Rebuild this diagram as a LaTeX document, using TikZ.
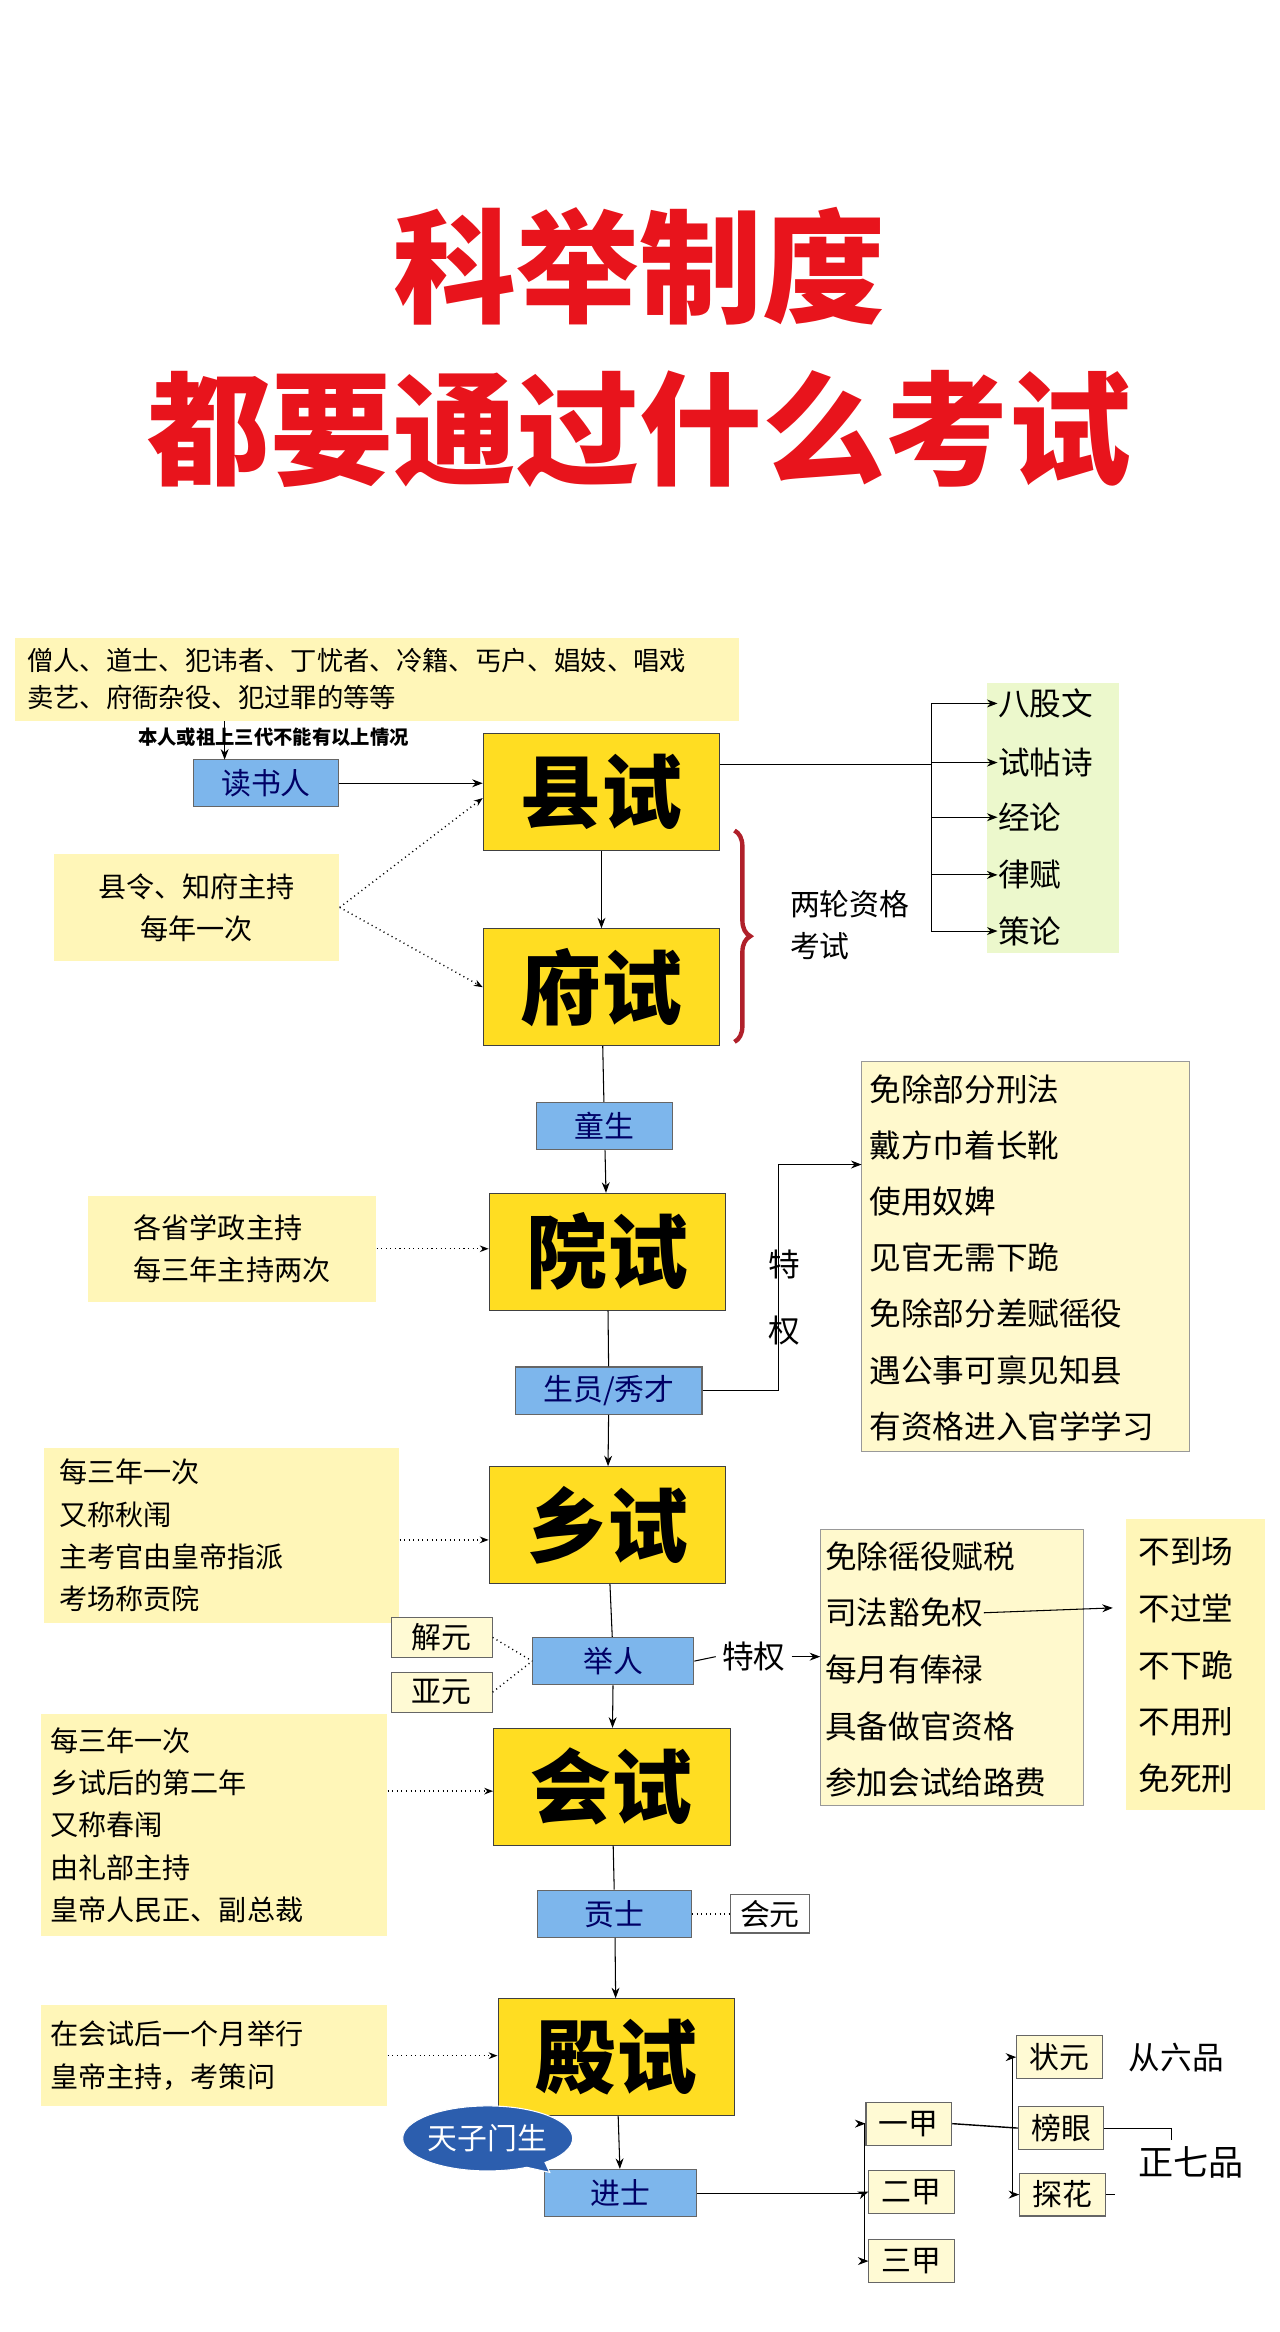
\documentclass[tikz,border=0pt]{standalone}
\usepackage{fontspec}
\newfontfamily\cjk{Noto Sans CJK SC}
\usetikzlibrary{arrows.meta,decorations.pathreplacing,shapes.callouts}
\definecolor{titlered}{HTML}{E8141C}
\definecolor{examyellow}{HTML}{FFDD22}
\definecolor{noteyellow}{HTML}{FFF6B8}
\definecolor{tagblue}{HTML}{7DB6EC}
\definecolor{listgreen}{HTML}{ECF8CC}
\definecolor{bubbleblue}{HTML}{2C5EAE}
\definecolor{bracered}{HTML}{B0202A}
\def\px{0.02956cm}
\begin{document}
\begin{tikzpicture}[
    x=0.02956cm, y=-0.02956cm,
    every node/.style={font=\cjk},
    every path/.style={semithick},
    exam/.style={draw=black!75, fill=examyellow, minimum width={160*\px}, minimum height={79*\px}, inner sep=0pt, font=\cjk\bfseries\fontsize{46}{46}\selectfont},
    tag/.style={draw=black!60, fill=tagblue, minimum height={32*\px}, inner sep=0pt, font=\cjk\fontsize{17}{17}\selectfont, text=blue!40!black},
    rank/.style={draw=black!60, fill=noteyellow!60, minimum width={58*\px}, minimum height={29*\px}, inner sep=0pt, font=\cjk\fontsize{17}{17}\selectfont},
    note/.style={fill=noteyellow, align=left, inner sep=0pt, font=\cjk\fontsize{16}{24}\selectfont},
    item/.style={anchor=west, inner sep=0pt, font=\cjk\fontsize{18}{18}\selectfont},
    dotarrow/.style={dotted, thick, -{Stealth[length=5pt]}},
    arrow/.style={-{Stealth[length=6pt]}}
    ]
    \useasboundingbox (0,0) rectangle (866,1578);
    % title
    \node[text=titlered, font=\cjk\bfseries\fontsize{70}{70}\selectfont] (title1) at (433,180) {科举制度};
    \node[text=titlered, font=\cjk\bfseries\fontsize{70}{70}\selectfont] (title2) at (433,290) {都要通过什么考试};
    % backgrounds
    \fill[noteyellow] (10,432) rectangle (500,488);
    \fill[listgreen] (668,462) rectangle (757,645);
    \filldraw[fill=noteyellow!70, draw=black!40] (583,718) rectangle (805,982);
    \filldraw[fill=noteyellow!70, draw=black!40] (555,1035) rectangle (733,1222);
    \fill[noteyellow] (762,1028) rectangle (856,1225);
    % top note
    \node[item, font=\cjk\fontsize{15}{15}\selectfont] (ban1) at (18,447) {僧人、道士、犯讳者、丁忧者、冷籍、丐户、娼妓、唱戏};
    \node[item, font=\cjk\fontsize{15}{15}\selectfont] (ban2) at (18,472) {卖艺、府衙杂役、犯过罪的等等};
    \node[font=\cjk\bfseries\fontsize{11}{11}\selectfont] (cond) at (185,499) {本人或祖上三代不能有以上情况};
    % exams
    \node[exam] (xian) at (407,536) {县试};
    \node[exam] (fu) at (407,668) {府试};
    \node[exam] (yuan) at (411,847) {院试};
    \node[exam] (xiang) at (411,1032) {乡试};
    \node[exam] (hui) at (414,1209) {会试};
    \node[exam] (dian) at (417,1392) {殿试};
    % tags
    \node[tag, minimum width={98*\px}] (dushu) at (180,530) {读书人};
    \node[tag, minimum width={92*\px}] (tong) at (409,762) {童生};
    \node[tag, minimum width={126*\px}] (sheng) at (412,941) {生员/秀才};
    \node[tag, minimum width={109*\px}] (ju) at (415,1124) {举人};
    \node[tag, minimum width={104*\px}] (gong) at (416,1295) {贡士};
    \node[tag, minimum width={103*\px}] (jin) at (420,1484) {进士};
    % notes
    \node[note, minimum width={193*\px}, minimum height={72*\px}, align=center] (n1) at (133,614) {县令、知府主持\\每年一次};
    \node[note, minimum width={195*\px}, minimum height={72*\px}] (n2) at (157,845) {各省学政主持\\每三年主持两次};
    \node[note, minimum width={240*\px}, minimum height={118*\px}, text width={220*\px}] (n3) at (150,1039) {每三年一次\\又称秋闱\\主考官由皇帝指派\\考场称贡院};
    \node[note, minimum width={234*\px}, minimum height={150*\px}, text width={222*\px}] (n4) at (145,1235) {每三年一次\\乡试后的第二年\\又称春闱\\由礼部主持\\皇帝人民正、副总裁};
    \node[note, minimum width={234*\px}, minimum height={68*\px}, text width={222*\px}] (n5) at (145,1391) {在会试后一个月举行\\皇帝主持，考策问};
    % main flow
    \draw[arrow] (dushu.east) -- (xian.west |- dushu.east);
    \draw[arrow] (152,488) -- (152,514);
    \draw[dotarrow] (n1.east) -- (xian.west |- 0,540);
    \draw[dotarrow] (n1.east) -- (fu.west);
    \draw[arrow] (xian) -- (fu);
    \draw (fu) -- (tong);
    \draw[arrow] (tong) -- (yuan);
    \draw[dotarrow] (n2.east) -- (yuan.west |- n2.east);
    \draw (yuan) -- (sheng);
    \draw[arrow] (sheng) -- (xiang);
    \draw[dotarrow] (n3.east |- 0,1042) -- (xiang.west |- 0,1042);
    \draw (xiang) -- (ju);
    \draw[arrow] (ju) -- (hui);
    \draw[dotarrow] (n4.east |- 0,1212) -- (hui.west |- 0,1212);
    \draw (hui) -- (gong);
    \draw[arrow] (gong) -- (dian);
    \draw[dotarrow] (n5.east) -- (dian.west |- n5.east);
    \draw[arrow] (dian) -- (jin);
    % brace
    \draw[bracered, line width=2.5pt, decorate, decoration={brace, amplitude=9pt}] (497,562) -- (497,705);
    \node[align=left, font=\cjk\fontsize{17}{24}\selectfont] (round) at (575,626) {两轮资格\\考试};
    % 县试 subjects
    \coordinate (fork) at (630,517);
    \draw (xian.east |- fork) -- (fork);
    \draw (630,476) -- (630,630);
    \foreach \name/\y in {八股文/476, 试帖诗/516, 经论/553, 律赋/592, 策论/630} {
      \node[item] (s\y) at (675,\y) {\name};
      \draw[arrow] (630,\y) -- (s\y.west);
    }
    % 秀才 privileges
    \node[align=center, font=\cjk\fontsize{18}{38}\selectfont] (tq1) at (531,878) {特\\权};
    \draw[arrow] (sheng.east) -- (527,941) -- (527,788) -- (583,788);
    \foreach \name [count=\i] in {免除部分刑法, 戴方巾着长靴, 使用奴婢, 见官无需下跪, 免除部分差赋徭役, 遇公事可禀见知县, 有资格进入官学学习} {
      \node[item] (p\i) at (588,{737+38*(\i-1)}) {\name};
    }
    % 举人 privileges
    \node[rank, minimum width={68*\px}, minimum height={27*\px}] (jie) at (299,1108) {解元};
    \node[rank, minimum width={68*\px}, minimum height={27*\px}] (ya) at (299,1145) {亚元};
    \draw[dotted, thick] (jie.east) -- (ju.west);
    \draw[dotted, thick] (ya.east) -- (ju.west);
    \node[font=\cjk\fontsize{18}{18}\selectfont] (tq2) at (510,1121) {特权};
    \draw (ju.east) -- (tq2.west);
    \draw[arrow] (tq2.east) -- (555,1121);
    \foreach \name [count=\i] in {免除徭役赋税, 司法豁免权, 每月有俸禄, 具备做官资格, 参加会试给路费} {
      \node[item] (q\i) at (558,{1053+38.3*(\i-1)}) {\name};
    }
    \draw[arrow] (q2.east) -- (753,1088);
    \foreach \name [count=\i] in {不到场, 不过堂, 不下跪, 不用刑, 免死刑} {
      \node[item] (r\i) at (770,{1050+38.3*(\i-1)}) {\name};
    }
    % 会元
    \node[rank, minimum width={53*\px}, minimum height={26*\px}, fill=white] (huiyuan) at (521,1295) {会元};
    \draw[dotted, thick] (gong.east) -- (huiyuan.west);
    % 进士 ranks
    \node[draw=white, fill=bubbleblue, ellipse callout, callout absolute pointer={(372,1470)}, text=white, minimum width={115*\px}, minimum height={44*\px}, inner sep=0pt, font=\cjk\fontsize{17}{17}\selectfont] (tianzi) at (330,1447) {天子门生};
    \node[rank] (yi) at (615,1437) {一甲};
    \node[rank] (er) at (617,1483) {二甲};
    \node[rank] (san) at (617,1530) {三甲};
    \draw (jin.east) -- (585,1484);
    \draw (585,1437) -- (585,1530);
    \draw[arrow] (585,1437) -- (yi.west);
    \draw[arrow] (585,1484) -- (er.west);
    \draw[arrow] (585,1530) -- (san.west);
    \node[rank] (zy) at (717,1392) {状元};
    \node[rank] (by) at (718,1440) {榜眼};
    \node[rank] (th) at (719,1485) {探花};
    \draw[thick] (yi.east) -- (by.west);
    \draw (685,1392) -- (685,1485);
    \draw[arrow] (685,1392) -- (zy.west);
    \draw[arrow] (685,1485) -- (th.west);
    \node[font=\cjk\fontsize{18}{18}\selectfont] (cong6) at (796,1392) {从六品};
    \node[font=\cjk\fontsize{20}{20}\selectfont] (zheng7) at (806,1463) {正七品};
    \draw (by.east) -- (793,1440) -- (zheng7.north -| 793,0);
    \draw (th.east) -- ++(6,0);
\end{tikzpicture}
\end{document}
